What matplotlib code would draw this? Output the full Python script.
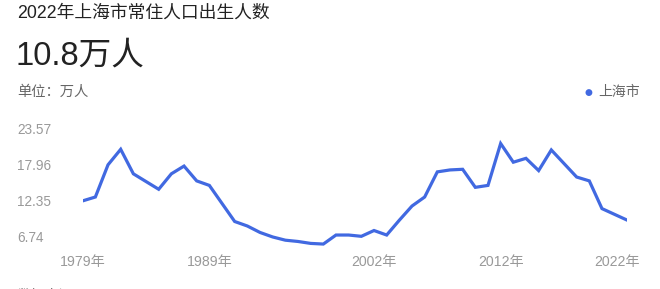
import matplotlib
matplotlib.use("Agg")
import matplotlib.pyplot as plt
from matplotlib.transforms import ScaledTranslation

plt.rcParams['font.family'] = ['Liberation Sans', 'Noto Sans CJK SC']

# data (万人)
years = list(range(1979, 2023))
births = [12.3, 12.9, 17.9, 20.3, 16.5, 15.3, 14.1, 16.5, 17.7, 15.4,
          14.7, 11.9, 9.1, 8.4, 7.4, 6.7, 6.2, 6.0, 5.7, 5.6,
          7.0, 7.0, 6.8, 7.7, 7.0, 9.3, 11.5, 12.9, 16.8, 17.1,
          17.2, 14.4, 14.7, 21.2, 18.3, 18.9, 17.0, 20.2, 18.1, 16.0,
          15.4, 11.1, 10.2, 9.3]
ytick_vals = [6.74, 12.35, 17.96, 23.57]
xtick_years = [1979, 1989, 2002, 2012, 2022]
xtick_labels = [str(y) + "年" for y in xtick_years]

line_color = "#4169E1"
grey = "#999999"

fig = plt.figure(figsize=(6.6, 2.89), dpi=100)
ax = fig.add_axes([82.7 / 660, 0.131, (627.3 - 82.7) / 660, 0.577 - 0.131])

ax.plot(years, births, color=line_color, lw=2.3, solid_joinstyle='miter')
ax.set_xlim(1979, 2022)
ax.set_ylim(4.5, 24.5)

for s in ax.spines.values():
    s.set_visible(False)

ax.set_yticks(ytick_vals)
ax.set_yticklabels(["%.2f" % v for v in ytick_vals])
ax.tick_params(axis='y', length=0, pad=47.3, labelsize=9.8, labelcolor=grey)
for lab in ax.get_yticklabels():
    lab.set_horizontalalignment('left')

ax.set_xticks(xtick_years)
ax.set_xticklabels(xtick_labels)
ax.tick_params(axis='x', length=0, pad=3, labelsize=10.2, labelcolor=grey)
last = ax.get_xticklabels()[-1]
last.set_transform(last.get_transform() + ScaledTranslation(-0.1, 0, fig.dpi_scale_trans))

# header texts
fig.text(17 / 660, 1 - 13 / 289, "2022年上海市常住人口出生人数", fontsize=12.8,
         color="#222222", va='center', ha='left')
fig.text(15 / 660, 1 - 56 / 289, "10.8万人", fontsize=23.5,
         color="#222222", va='center', ha='left')
fig.text(17 / 660, 1 - 92 / 289, "单位：万人", fontsize=10.3,
         color="#666666", va='center', ha='left')

# legend
fig.text(588 / 660, 1 - 92.5 / 289, "●", fontsize=6.5, color=line_color,
         va='center', ha='center', family=['DejaVu Sans'])
fig.text(598 / 660, 1 - 92 / 289, "上海市", fontsize=10, color="#666666",
         va='center', ha='left')

# cut-off footer, as in the reference
fig.text(17 / 660, 1 - 296 / 289, "数据来源", fontsize=10, color="#666666",
         va='center', ha='left')

fig.savefig("out.png", dpi=100, facecolor="white")
